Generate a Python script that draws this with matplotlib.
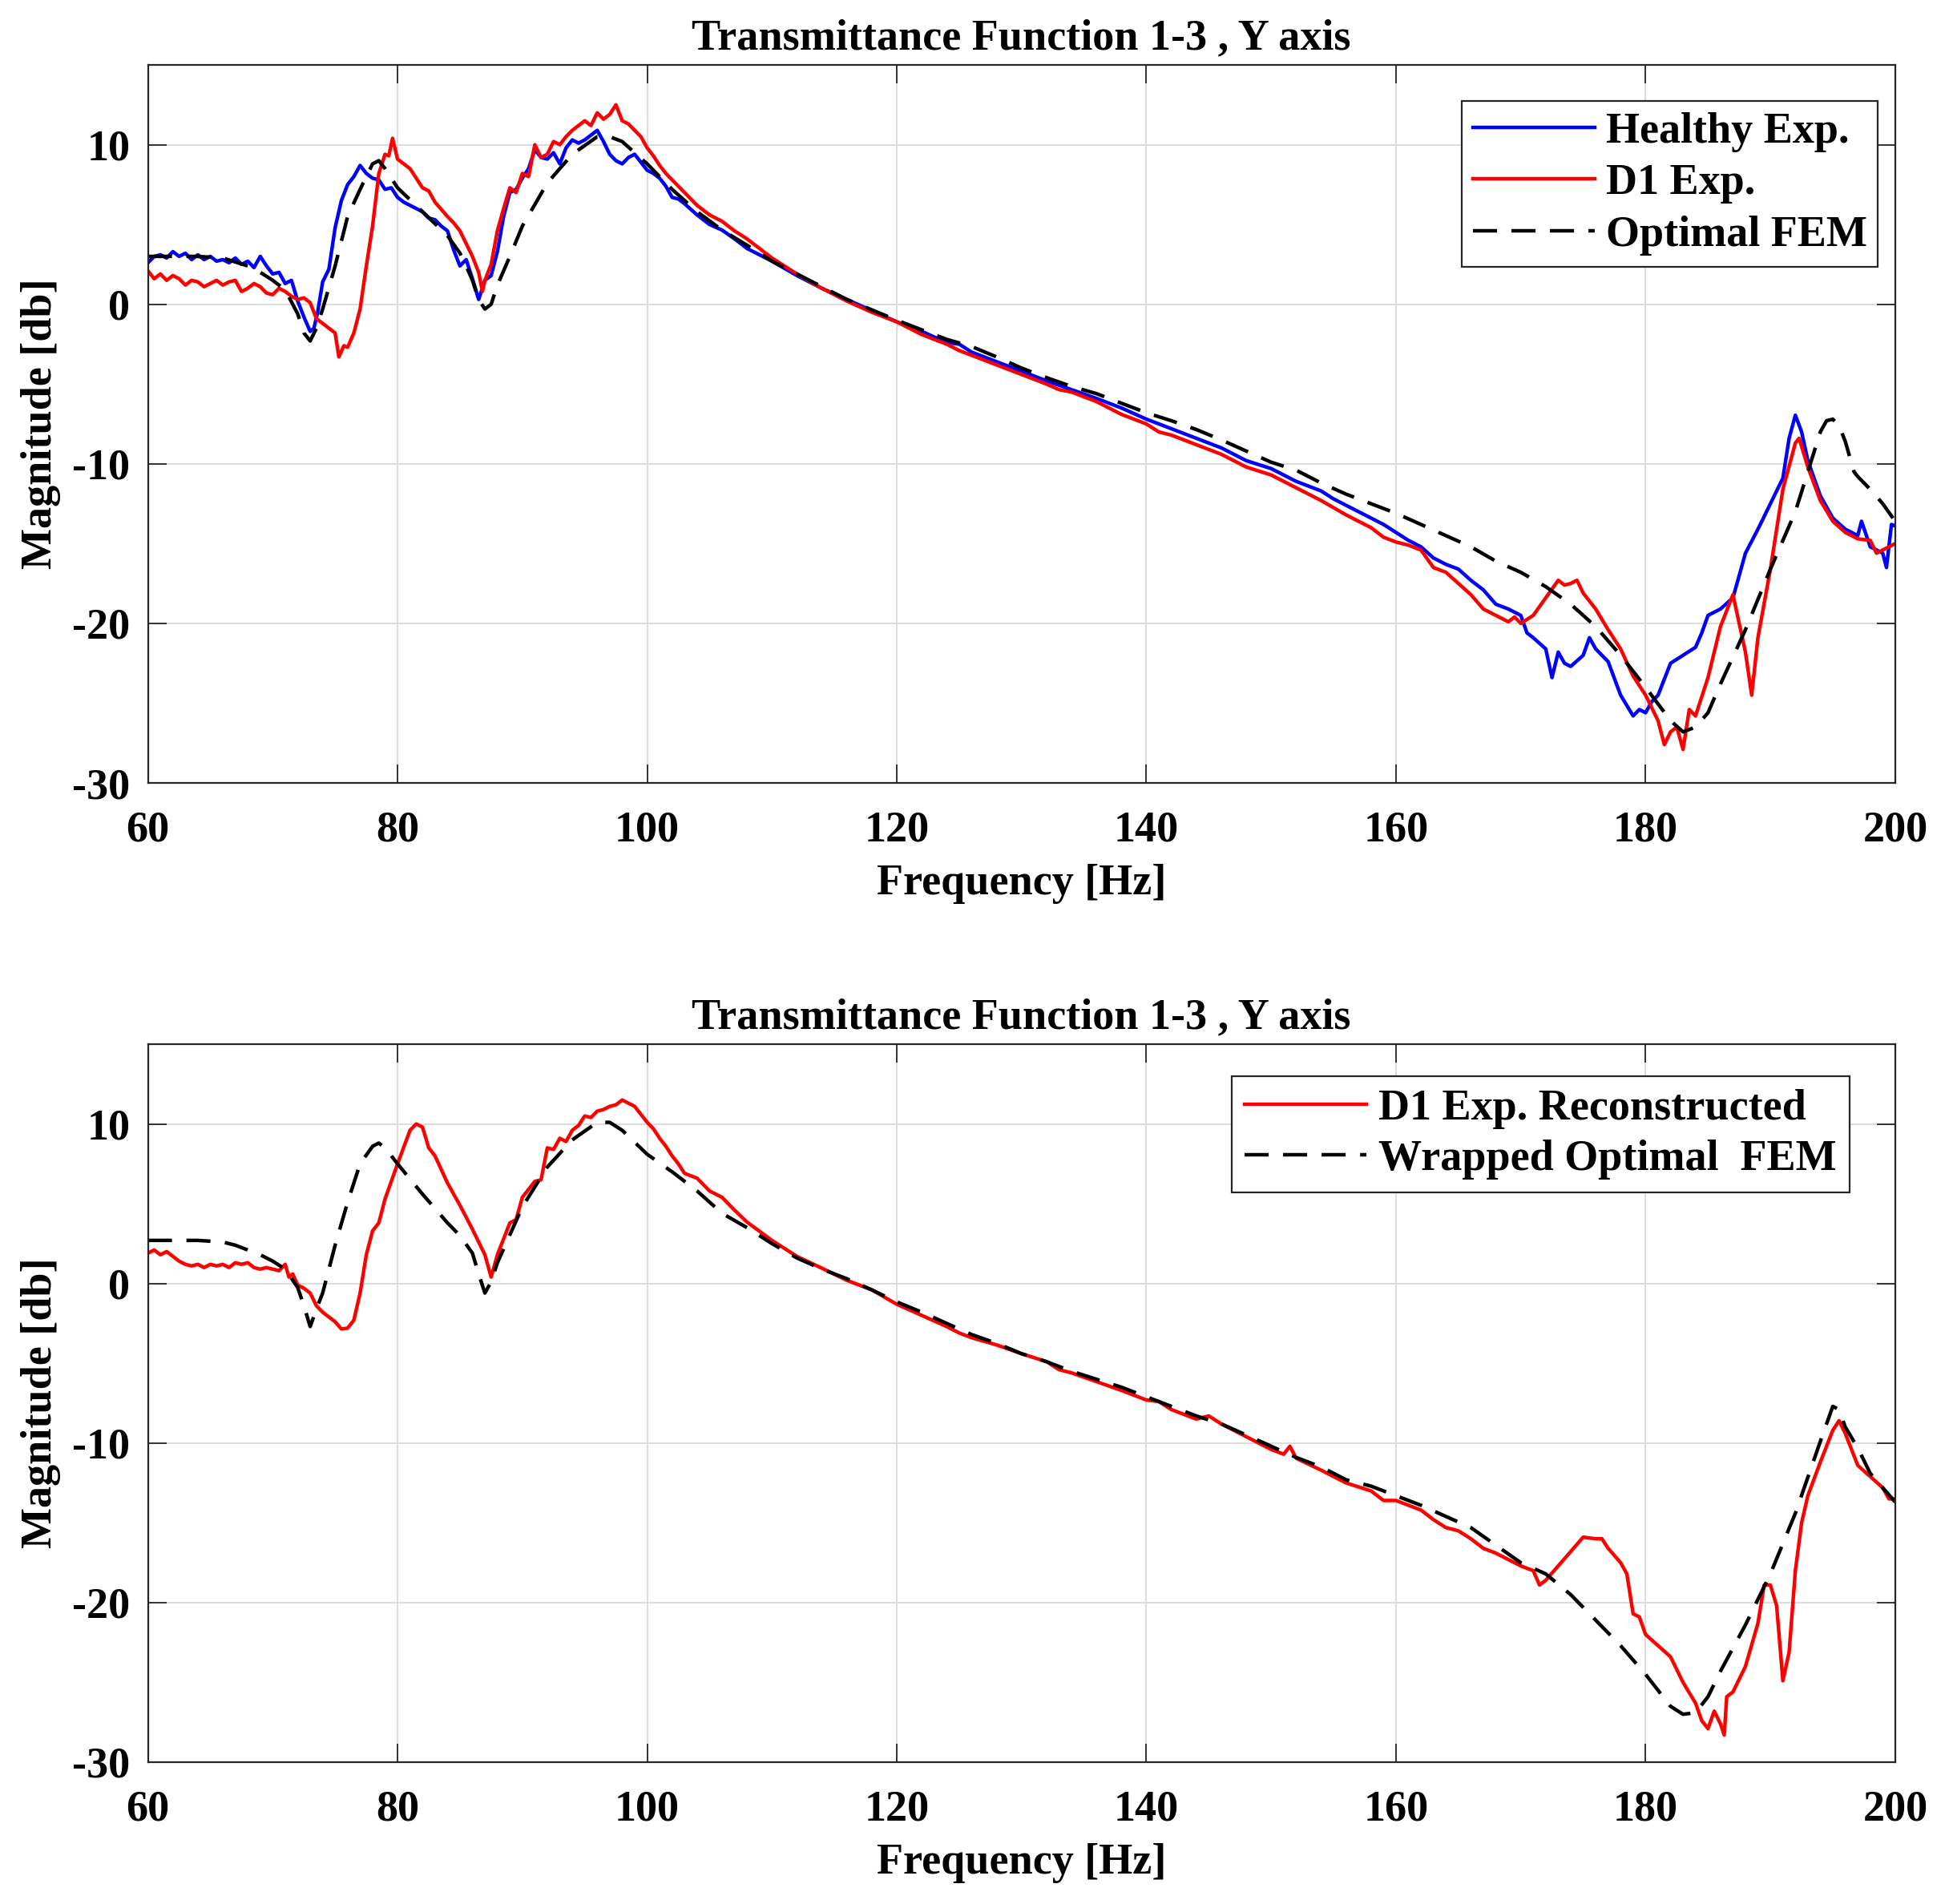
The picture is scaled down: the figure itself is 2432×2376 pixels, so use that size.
import numpy as np
import matplotlib
matplotlib.use("Agg")
import matplotlib.pyplot as plt

# ---------------------------------------------------------
# Data (frequency [Hz], magnitude [dB])
# ---------------------------------------------------------
# top plot - Healthy Exp.
f_healthy = [60, 60.5, 61, 61.5, 62, 62.5, 63, 63.5, 64, 64.5, 65, 65.5, 66, 66.5, 67, 67.5,
             68, 68.5, 69, 69.5, 70, 70.5, 71, 71.5, 72, 72.5, 73, 73.3, 73.6, 74, 74.5, 75,
             75.5, 76, 76.5, 77, 77.5, 78, 78.5, 79, 79.5, 80, 80.5, 81, 81.5, 82, 82.5, 83,
             83.5, 84, 84.5, 85, 85.5, 86, 86.5, 87, 87.5, 88, 88.5, 89, 89.5, 90, 90.5, 91,
             91.5, 92, 92.5, 93, 93.5, 94, 94.5, 95, 95.5, 96, 96.5, 97, 97.5, 98, 98.5, 99,
             99.5, 100, 100.5, 101, 101.5, 102, 102.5, 103, 104, 105, 106, 107, 108, 109, 110,
             112, 114, 116, 118, 120, 122, 124, 125, 126, 128, 130, 132, 134, 136, 138, 140,
             142, 144, 146, 148, 150, 152, 154, 155, 156, 157, 158, 159, 160, 161, 162, 163,
             164, 165, 166, 167, 168, 169, 170, 170.5, 171, 172, 172.5, 173, 173.5, 174, 175,
             175.5, 176, 177, 178, 179, 179.5, 180, 180.5, 181, 182, 183, 184, 184.5, 185, 186,
             187, 188, 189, 190, 191, 191.5, 192, 192.5, 193, 194, 195, 196, 197, 197.3, 198,
             199, 199.3, 199.7, 200]
mag_healthy = [2.6, 3.0, 3.1, 2.9, 3.3, 3.0, 3.2, 2.8, 3.1, 2.8, 3.0, 2.7, 2.8, 2.6, 2.9, 2.5,
               2.7, 2.3, 3.0, 2.4, 1.9, 2.0, 1.3, 1.5, 0.2, -0.8, -1.7, -1.5, -0.5, 1.4, 2.2, 4.8,
               6.5, 7.5, 8.0, 8.7, 8.2, 7.9, 7.8, 7.2, 7.3, 6.7, 6.4, 6.2, 6.0, 5.8, 5.4, 5.3,
               4.9, 4.6, 3.4, 2.4, 2.8, 1.6, 0.3, 1.5, 1.8, 3.3, 5.5, 7.0, 7.2, 7.9, 8.5, 9.7,
               9.2, 9.1, 9.5, 8.8, 9.8, 10.3, 10.1, 10.3, 10.6, 10.9, 10.2, 9.4, 9.0, 8.8, 9.2, 9.4,
               8.9, 8.4, 8.2, 7.9, 7.4, 6.7, 6.6, 6.3, 5.6, 5.0, 4.65, 4.1, 3.5, 3.1, 2.7,
               1.8, 1.0, 0.3, -0.4, -1.1, -1.7, -2.4, -2.5, -3.0, -3.6, -4.2, -4.8, -5.35, -5.9, -6.5, -7.2,
               -7.8, -8.4, -9.0, -9.8, -10.3, -11.1, -11.7, -12.2, -12.6, -13.0, -13.4, -13.8, -14.3, -14.8, -15.2, -15.9,
               -16.3, -16.6, -17.3, -17.9, -18.8, -19.1, -19.5, -20.6, -20.9, -21.6, -23.4, -21.8, -22.5, -22.7, -22.0,
               -20.9, -21.6, -22.4, -24.5, -25.8, -25.4, -25.6, -24.9, -24.5, -22.5, -22.0, -21.5, -20.6, -19.5, -19.1,
               -18.4, -15.6, -14.1, -12.5, -10.9, -8.4, -6.95, -8.0, -9.8, -12.0, -13.4, -14.1, -14.5, -13.6, -15.2,
               -15.6, -16.5, -13.8, -13.9]

# top plot - D1 Exp.
f_d1 = [60, 60.5, 61, 61.5, 62, 62.5, 63, 63.5, 64, 64.5, 65, 65.5, 66, 66.5, 67, 67.5,
        68, 68.5, 69, 69.5, 70, 70.5, 71, 71.5, 72, 72.5, 73, 73.5, 74, 74.5, 75, 75.3,
        75.7, 76, 76.5, 77, 77.5, 78, 78.5, 79, 79.3, 79.6, 80, 81, 82, 82.5, 83, 84,
        84.5, 85, 85.5, 86, 86.5, 86.8, 87, 87.5, 88, 88.5, 89, 89.5, 90, 90.5, 91, 91.5,
        92, 92.5, 93, 93.5, 94, 94.5, 95, 95.5, 96, 96.5, 97, 97.5, 98, 98.5, 99, 99.5,
        100, 100.5, 101, 101.5, 102, 102.5, 103, 104, 105, 106, 107, 108, 109, 110, 112, 114,
        116, 118, 120, 122, 124, 125, 126, 128, 130, 132, 133, 134, 136, 138, 140, 141,
        142, 144, 146, 147, 148, 150, 152, 154, 156, 158, 159, 160, 161, 162, 163, 164,
        165, 166, 167, 168, 169, 169.5, 170, 171, 172, 173, 173.5, 174, 174.5, 175, 176, 177,
        178, 179, 180, 181, 181.5, 182, 182.5, 183, 183.5, 184, 185, 186, 187, 187.5, 188, 188.5,
        189, 190, 191, 192, 192.3, 193, 194, 195, 196, 197, 198, 198.5, 199, 199.5, 200]
mag_d1 = [2.1, 1.6, 1.9, 1.5, 1.8, 1.6, 1.2, 1.5, 1.4, 1.1, 1.3, 1.5, 1.2, 1.4, 1.5, 0.8,
          1.0, 1.3, 1.1, 0.7, 0.6, 1.0, 0.8, 0.5, 0.3, 0.4, 0.1, -0.9, -1.2, -1.5, -1.8, -3.3,
          -2.6, -2.7, -1.8, -0.3, 2.4, 4.9, 8.2, 9.4, 9.3, 10.4, 9.1, 8.5, 7.3, 7.1, 6.4, 5.5,
          5.1, 4.6, 3.8, 3.0, 2.0, 0.8, 1.5, 2.5, 4.6, 6.0, 7.3, 7.0, 8.2, 8.0, 10.0, 9.2,
          9.4, 10.2, 10.0, 10.5, 10.9, 11.2, 11.5, 11.2, 12.0, 11.6, 11.9, 12.5, 11.5, 11.3, 10.9, 10.5,
          9.8, 9.3, 8.7, 8.2, 7.8, 7.4, 7.0, 6.2, 5.6, 5.2, 4.6, 4.1, 3.5, 2.9, 1.9, 1.0,
          0.2, -0.5, -1.1, -1.9, -2.5, -2.9, -3.2, -3.8, -4.4, -5.0, -5.35, -5.5, -6.1, -6.9, -7.5, -8.0,
          -8.2, -8.8, -9.4, -9.8, -10.2, -10.7, -11.5, -12.3, -13.2, -14.0, -14.6, -14.9, -15.1, -15.4, -16.5, -16.8,
          -17.5, -18.2, -19.1, -19.5, -19.9, -19.6, -20.0, -19.5, -18.4, -17.3, -17.6, -17.5, -17.3, -18.1, -19.1, -20.4,
          -21.6, -23.3, -24.5, -26.1, -27.6, -26.8, -26.5, -27.9, -25.4, -25.8, -23.4, -20.2, -18.2, -20.0, -21.8, -24.5,
          -20.9, -16.6, -11.6, -8.7, -8.4, -10.2, -12.3, -13.6, -14.3, -14.7, -14.8, -15.6, -15.4, -15.2, -15.0]

# top plot - Optimal FEM
f_fem = [60, 62, 64, 66, 68, 69, 70, 71, 72, 72.5, 73, 73.5, 74, 75, 76, 77,
         78, 78.5, 79, 80, 82, 84, 85, 85.5, 86, 86.5, 87, 87.5, 88, 89, 90, 92,
         94, 96, 97, 98, 100, 102, 104, 106, 108, 110, 112, 114, 116, 118, 120, 122,
         124, 126, 128, 130, 132, 134, 136, 138, 140, 142, 144, 146, 148, 150, 152, 154,
         156, 158, 160, 162, 164, 166, 168, 170, 172, 174, 176, 178, 180, 182, 183, 184,
         185, 186, 188, 190, 192, 193, 194, 194.5, 195, 195.5, 196, 196.7, 197, 198, 199, 200]
mag_fem = [3.0, 3.0, 3.0, 2.9, 2.4, 2.0, 1.5, 0.9, -0.6, -1.8, -2.3, -1.5, -0.3, 2.4, 5.5, 7.2,
           8.8, 9.0, 8.5, 7.3, 5.8, 4.3, 3.2, 2.4, 1.5, 0.3, -0.3, 0.0, 1.2, 3.0, 4.9, 7.6,
           9.4, 10.5, 10.5, 10.2, 8.8, 7.2, 5.8, 4.65, 3.7, 2.7, 1.9, 1.1, 0.3, -0.35, -1.0, -1.6,
           -2.2, -2.65, -3.3, -4.0, -4.6, -5.15, -5.6, -6.2, -6.8, -7.3, -7.85, -8.5, -9.2, -9.9, -10.4, -11.2,
           -11.9, -12.5, -13.1, -13.8, -14.5, -15.2, -16.1, -16.8, -17.7, -18.8, -20.2, -22.0, -24.0, -26.1, -26.8, -26.5,
           -25.6, -23.8, -20.4, -16.6, -13.0, -10.5, -8.0, -7.3, -7.2, -7.6, -8.6, -10.5, -10.8, -11.6, -12.5, -13.6]

# bottom plot - D1 Exp. Reconstructed
f_rec = [60, 60.5, 61, 61.5, 62, 62.5, 63, 63.5, 64, 64.5, 65, 65.5, 66, 66.5, 67, 67.5,
         68, 68.5, 69, 69.5, 70, 70.5, 71, 71.3, 71.6, 72, 72.5, 73, 73.5, 74, 74.5, 75,
         75.5, 76, 76.5, 77, 77.5, 78, 78.5, 79, 80, 81, 81.5, 82, 82.5, 83, 84, 85,
         86, 87, 87.5, 88, 89, 89.5, 90, 91, 91.5, 92, 92.5, 93, 93.5, 94, 94.5, 95,
         95.5, 96, 96.5, 97, 97.5, 98, 98.5, 99, 99.5, 100, 100.5, 101, 101.5, 102, 102.5, 103,
         104, 105, 106, 107, 108, 110, 112, 114, 116, 118, 120, 122, 124, 125, 126, 128,
         130, 132, 133, 134, 136, 138, 140, 141, 142, 144, 145, 146, 148, 150, 151, 151.5,
         152, 154, 156, 158, 159, 160, 161, 162, 163, 164, 165, 166, 167, 168, 169, 170,
         171, 171.5, 172, 173, 174, 175, 176, 176.5, 177, 178, 178.5, 179, 179.5, 180, 181, 182,
         183, 184, 184.5, 185, 185.5, 186, 186.3, 186.5, 187, 188, 189, 189.5, 190, 190.5, 191, 191.5,
         192, 192.5, 193, 194, 195, 195.5, 196, 197, 198, 199, 199.5, 200]
mag_rec = [1.9, 2.1, 1.8, 2.0, 1.7, 1.4, 1.2, 1.1, 1.2, 1.0, 1.2, 1.1, 1.2, 1.0, 1.3, 1.2,
           1.3, 1.0, 0.9, 1.0, 0.9, 0.8, 1.2, 0.4, 0.6, -0.1, -0.3, -0.6, -1.4, -1.8, -2.1, -2.4,
           -2.85, -2.8, -2.3, -0.6, 1.8, 3.3, 3.8, 5.3, 7.5, 9.6, 10.0, 9.8, 8.5, 8.0, 6.3, 4.9,
           3.4, 1.8, 0.4, 1.8, 3.8, 4.0, 5.4, 6.4, 6.5, 8.5, 8.4, 9.1, 8.9, 9.6, 9.9, 10.5,
           10.4, 10.8, 10.9, 11.1, 11.2, 11.5, 11.3, 11.1, 10.6, 10.1, 9.7, 9.1, 8.6, 8.0, 7.5, 6.9,
           6.6, 5.8, 5.4, 4.6, 3.85, 2.7, 1.7, 0.96, 0.2, -0.4, -1.3, -2.0, -2.7, -3.1, -3.4, -3.85,
           -4.4, -4.9, -5.4, -5.6, -6.15, -6.7, -7.3, -7.4, -7.9, -8.5, -8.3, -8.8, -9.6, -10.4, -10.7, -10.2,
           -10.95, -11.7, -12.5, -13.0, -13.6, -13.6, -13.9, -14.2, -14.8, -15.3, -15.5, -16.0, -16.6, -16.9, -17.3, -17.7,
           -18.0, -18.9, -18.6, -17.7, -16.8, -15.9, -16.0, -16.0, -16.6, -17.5, -18.2, -20.7, -20.9, -22.0, -22.7, -23.4,
           -25.0, -26.3, -27.4, -27.9, -26.8, -27.6, -28.3, -25.9, -25.6, -24.0, -21.3, -18.9, -18.9, -20.2, -24.9, -23.1,
           -18.0, -15.0, -13.3, -11.2, -9.2, -8.6, -9.4, -11.4, -12.1, -12.8, -13.5, -13.5]

# bottom plot - Wrapped Optimal FEM
f_wrap = [60, 62, 64, 66, 67, 68, 69, 70, 71, 72, 72.5, 73, 73.5, 74, 75, 76,
          77, 78, 78.5, 79, 80, 82, 84, 85, 86, 86.5, 87, 87.5, 88, 90, 92, 94,
          96, 97, 98, 100, 102, 104, 106, 108, 110, 112, 114, 116, 118, 120, 122, 124,
          126, 128, 130, 132, 134, 136, 138, 140, 142, 144, 146, 148, 150, 152, 154, 156,
          158, 160, 162, 164, 166, 168, 170, 172, 174, 176, 178, 180, 182, 183, 184, 185,
          186, 188, 190, 192, 194, 195, 195.5, 196, 197, 198, 199, 200]
mag_wrap = [2.7, 2.7, 2.7, 2.6, 2.4, 2.1, 1.8, 1.4, 0.9, -0.25, -1.4, -2.7, -1.6, -0.6, 2.4, 5.1,
            7.5, 8.6, 8.8, 8.5, 7.5, 5.6, 3.8, 3.0, 1.9, 0.6, -0.6, 0.1, 1.3, 4.8, 7.3, 9.0,
            10.1, 10.1, 9.6, 8.1, 7.0, 5.8, 4.4, 3.5, 2.5, 1.6, 0.9, 0.3, -0.4, -1.15, -1.8, -2.5,
            -3.2, -3.75, -4.4, -4.9, -5.5, -6.0, -6.5, -7.1, -7.7, -8.3, -8.8, -9.5, -10.2, -10.9, -11.5, -12.3,
            -12.7, -13.3, -13.9, -14.6, -15.3, -16.4, -17.5, -18.2, -19.5, -21.1, -22.7, -24.5, -26.5, -27.0, -26.9, -25.9,
            -24.3, -21.4, -18.2, -14.4, -9.9, -7.7, -7.9, -9.0, -10.3, -11.9, -12.8, -13.7]

title_text = "Transmittance Function 1-3 , Y axis"
x_ticks = [60, 80, 100, 120, 140, 160, 180, 200]
y_ticks = [-30, -20, -10, 0, 10]

# ---------------------------------------------------------
# Style (MATLAB-like, Times bold)
# ---------------------------------------------------------
plt.rcParams["font.family"] = ["Liberation Serif", "DejaVu Serif"]
plt.rcParams["font.weight"] = "bold"
plt.rcParams["axes.unicode_minus"] = False
plt.rcParams["lines.scale_dashes"] = False

FS = 39
AX_COL = "#262626"
DASH = (0, (21.6, 13.0))
LW = 3.2

fig = plt.figure(figsize=(24.32, 23.76), dpi=100)
ax1 = fig.add_axes([0.0759, 0.5888, 0.8965, 0.3771])
ax2 = fig.add_axes([0.0759, 0.0745, 0.8965, 0.3771])


def style_axes(ax):
    ax.set_xlim(60, 200)
    ax.set_ylim(-30, 15)
    ax.set_xticks(x_ticks)
    ax.set_yticks(y_ticks)
    ax.grid(True, color="#dcdcdc", linewidth=1.4)
    ax.set_axisbelow(True)
    ax.tick_params(direction="in", length=16.5, width=1.3, color=AX_COL,
                   top=True, right=True, labelsize=FS, labelcolor="black")
    ax.tick_params(axis="x", pad=25)
    ax.tick_params(axis="y", pad=16)
    for sp in ax.spines.values():
        sp.set_color(AX_COL)
        sp.set_linewidth(1.6)
    ax.set_xlabel("Frequency [Hz]", fontsize=FS, fontweight="bold", labelpad=12)
    ax.set_ylabel("Magnitude [db]", fontsize=FS, fontweight="bold", labelpad=10)
    ax.set_title(title_text, fontsize=FS, fontweight="bold", pad=14)


# top plot
ax1.plot(f_healthy, mag_healthy, color="#0000ff", linewidth=LW, label="Healthy Exp.")
ax1.plot(f_d1, mag_d1, color="#ff0000", linewidth=LW, label="D1 Exp.")
ax1.plot(f_fem, mag_fem, color="black", linewidth=LW, linestyle=DASH, label="Optimal FEM")
style_axes(ax1)
leg1 = ax1.legend(loc="center", bbox_to_anchor=(0.8711, 0.8345), fontsize=FS,
                  handlelength=2.8, handletextpad=0.25, borderpad=0.26, labelspacing=0.27,
                  fancybox=False, framealpha=1, edgecolor=AX_COL, borderaxespad=0)
leg1.get_frame().set_linewidth(1.6)

# bottom plot
ax2.plot(f_rec, mag_rec, color="#ff0000", linewidth=LW, label="D1 Exp. Reconstructed")
ax2.plot(f_wrap, mag_wrap, color="black", linewidth=LW, linestyle=DASH,
         label="Wrapped Optimal  FEM")
style_axes(ax2)
leg2 = ax2.legend(loc="center", bbox_to_anchor=(0.797, 0.8745), fontsize=FS,
                  handlelength=2.8, handletextpad=0.28, borderpad=0.3, labelspacing=0.24,
                  fancybox=False, framealpha=1, edgecolor=AX_COL, borderaxespad=0)
leg2.get_frame().set_linewidth(1.6)

fig.savefig("out.png", dpi=100)
